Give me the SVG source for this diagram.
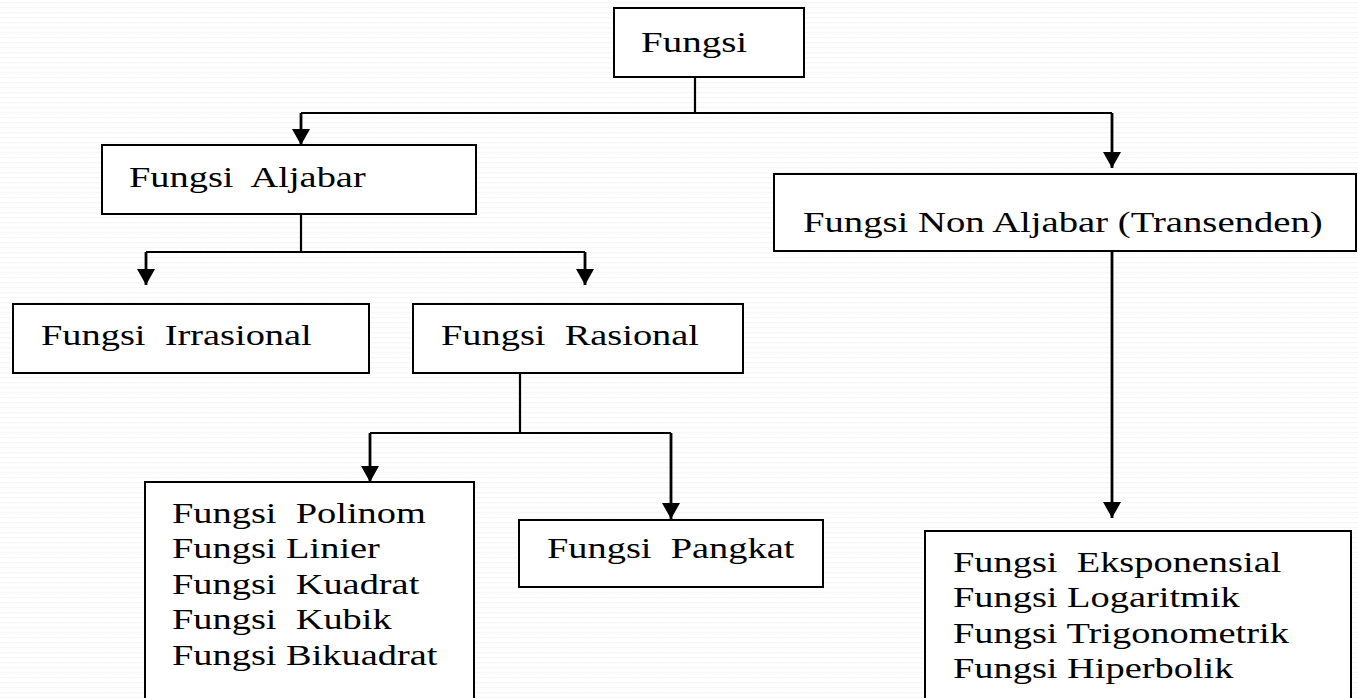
<svg xmlns="http://www.w3.org/2000/svg" width="1358" height="698" viewBox="0 0 1358 698">
<defs>
<pattern id="bg" width="6" height="5" patternUnits="userSpaceOnUse">
<rect width="6" height="5" fill="#ffffff"/>
<polyline points="0,3.5 1.5,2 3,3.5 4.5,2 6,3.5" fill="none" stroke="#ededed" stroke-width="0.8"/>
</pattern>
<marker id="ah" markerUnits="userSpaceOnUse" markerWidth="17" markerHeight="19" refX="16" refY="9" orient="auto">
<path d="M0,0 L16,9 L0,18 Z" fill="#000"/>
</marker>
<style>
.box{fill:#fff;stroke:#000;stroke-width:2}
.t{font-family:"Liberation Serif","Times New Roman",serif;font-size:30px;fill:#000}
.c{fill:none;stroke:#000;stroke-width:2.2}
.a{fill:none;stroke:#000;stroke-width:2.8;marker-end:url(#ah)}
</style>
</defs>
<rect width="1358" height="698" fill="url(#bg)"/>
<g id="connectors">
<path class="c" d="M695,77 V113"/>
<path class="c" d="M301,113 H1112"/>
<path class="a" d="M301,113 V145"/>
<path class="a" d="M1112,113 V168"/>
<path class="c" d="M301,214 V252"/>
<path class="c" d="M146,252 H585"/>
<path class="a" d="M146,252 V285"/>
<path class="a" d="M585,252 V285"/>
<path class="c" d="M520,373 V433"/>
<path class="c" d="M370,433 H671"/>
<path class="a" d="M370,433 V482"/>
<path class="a" d="M671,433 V519"/>
<path class="a" d="M1112,252 V518"/>
</g>
<g id="fungsi">
<rect class="box" x="614" y="8" width="190" height="69"/>
<text class="t" transform="translate(641,52) scale(1.3,1)">Fungsi</text>
</g>
<g id="aljabar">
<rect class="box" x="102" y="145" width="374" height="69"/>
<text class="t" transform="translate(129,187) scale(1.28,1)" xml:space="preserve">Fungsi  Aljabar</text>
</g>
<g id="nonaljabar">
<rect class="box" x="774" y="174" width="582" height="77"/>
<text class="t" transform="translate(803,232) scale(1.29,1)">Fungsi Non Aljabar (Transenden)</text>
</g>
<g id="irrasional">
<rect class="box" x="13" y="304" width="356" height="69"/>
<text class="t" transform="translate(41,345) scale(1.28,1)" xml:space="preserve">Fungsi  Irrasional</text>
</g>
<g id="rasional">
<rect class="box" x="413" y="304" width="330" height="69"/>
<text class="t" transform="translate(441,345) scale(1.28,1)" xml:space="preserve">Fungsi  Rasional</text>
</g>
<g id="polinom">
<rect class="box" x="145" y="482" width="329" height="222"/>
<text class="t" transform="translate(172,523) scale(1.28,1)" xml:space="preserve"><tspan x="0" y="0">Fungsi  Polinom</tspan><tspan x="0" y="35.5">Fungsi Linier</tspan><tspan x="0" y="71">Fungsi  Kuadrat</tspan><tspan x="0" y="106.5">Fungsi  Kubik</tspan><tspan x="0" y="142">Fungsi Bikuadrat</tspan></text>
</g>
<g id="pangkat">
<rect class="box" x="519" y="520" width="304" height="67"/>
<text class="t" transform="translate(547,558) scale(1.28,1)" xml:space="preserve">Fungsi  Pangkat</text>
</g>
<g id="transenden">
<rect class="box" x="925" y="531" width="426" height="173"/>
<text class="t" transform="translate(953,572) scale(1.28,1)" xml:space="preserve"><tspan x="0" y="0">Fungsi  Eksponensial</tspan><tspan x="0" y="35.3">Fungsi Logaritmik</tspan><tspan x="0" y="70.6">Fungsi Trigonometrik</tspan><tspan x="0" y="106">Fungsi Hiperbolik</tspan></text>
</g>
</svg>
